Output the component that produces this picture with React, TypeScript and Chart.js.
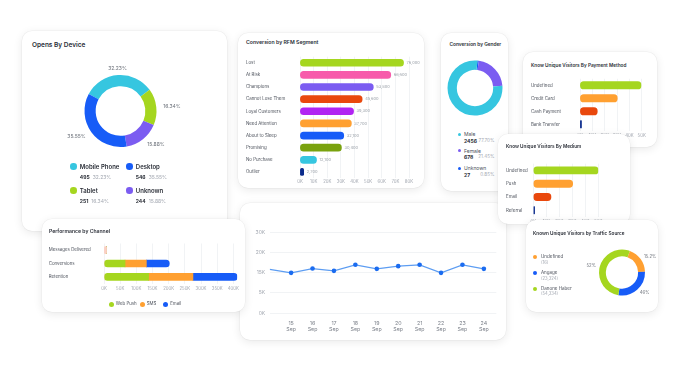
import React, { useEffect, useRef } from 'react';
import { Chart, registerables } from 'chart.js';
Chart.register(...registerables);

const FONT = 'Inter, "Liberation Sans", sans-serif';
const TEXT_DARK = '#2b2f38';
const TEXT_MID = '#4d525c';
const TEXT_LIGHT = '#a3a8b1';
const GRID = '#eef0f3';

// ---------- Opens By Device ----------
const deviceLabels = ['Mobile Phone', 'Tablet', 'Unknown', 'Desktop'];
const deviceCounts = [495, 251, 244, 546];
const devicePercents = ['32.23%', '16.34%', '15.88%', '35.55%'];
const deviceColors = ['#36c6e0', '#a5d61f', '#7b5cf1', '#175cf7'];

// ---------- Conversion by RFM Segment ----------
const rfmSegments = ['Lost', 'At Risk', 'Champions', 'Cannot Lose Them', 'Loyal Customers', 'Need Attention', 'About to Sleep', 'Promising', 'No Purchase', 'Outlier'];
const rfmValues = [76000, 66600, 53800, 45600, 39300, 37700, 32100, 30400, 12100, 2700];
const rfmColors = ['#a5d61f', '#f75bab', '#7b5cf1', '#e9480d', '#b124f2', '#ffa031', '#175cf7', '#79a20e', '#36c6e0', '#0b2b8c'];

// ---------- Conversion by Gender ----------
const genderLabels = ['Male', 'Female', 'Unknown'];
const genderCounts = [2456, 678, 27];
const genderPercents = ['77.70%', '21.45%', '0.85%'];
const genderColors = ['#36c6e0', '#7b5cf1', '#175cf7'];
const genderDrawOrder = [2, 1, 0];

// ---------- Payment Method ----------
const paymentMethods = ['Undefined', 'Credit Card', 'Cash Payment', 'Bank Transfer'];
const paymentValues = [49500, 30200, 14000, 1200];
const paymentColors = ['#a5d61f', '#ffa031', '#e9480d', '#0b2b8c'];

// ---------- Medium ----------
const mediumLabels = ['Undefined', 'Push', 'Email', 'Referral'];
const mediumValues = [50000, 30300, 13600, 1000];
const mediumColors = ['#a5d61f', '#ffa031', '#e9480d', '#0b2b8c'];

// ---------- Traffic Source ----------
const trafficLabels = ['Undefined', 'Angage', 'Danone Haber'];
const trafficCounts = ['(16)', '(23,324)', '(54,334)'];
const trafficShares = [19, 28, 53];
const trafficPercents = ['15.2%', '46%', '52%'];
const trafficColors = ['#ffa031', '#175cf7', '#a5d61f'];

// ---------- Performance by Channel ----------
const channelCategories = ['Messages Delivered', 'Conversions', 'Retention'];
const deliveredValues = [8000, 0, 0];
const webPushValues = [0, 65000, 138000];
const smsValues = [0, 66000, 137000];
const emailValues = [0, 71000, 137000];
const channelColors = ['#a5d61f', '#ffa031', '#175cf7'];
const channelNames = ['Web Push', 'SMS', 'Email'];
const channelTicks = [0, 50000, 100000, 150000, 200000, 250000, 300000, 350000, 400000];

// ---------- Daily line ----------
const lineDays = ['14 Sep', '15 Sep', '16 Sep', '17 Sep', '18 Sep', '19 Sep', '20 Sep', '21 Sep', '22 Sep', '23 Sep', '24 Sep'];
const lineValues = [16300, 15000, 16600, 15750, 18000, 16500, 17500, 18000, 15000, 18000, 16500];
const lineYTickLabels = ['0K', '5K', '15K', '20K', '30K'];

const kFmt = (v: number) => `${Math.round(v / 1000)}K`;

function ChartCanvas({ x, y, w, h, z, make }: any) {
  const ref = useRef<HTMLCanvasElement>(null);
  useEffect(() => {
    const chart = new Chart(ref.current as HTMLCanvasElement, make());
    return () => chart.destroy();
  }, []);
  return (
    <canvas
      ref={ref}
      width={w}
      height={h}
      style={{ position: 'absolute', left: x, top: y, width: w, height: h, zIndex: z }}
    />
  );
}

function Card({ x, y, w, h, z }: any) {
  return (
    <div
      style={{
        position: 'absolute', left: x, top: y, width: w, height: h, zIndex: z,
        background: '#fff', borderRadius: 10,
        boxShadow: '0 0 0 0.5px rgba(0,0,0,0.05), 0 2px 10px rgba(0,0,0,0.09)',
      }}
    />
  );
}

function T({ x, y, z, size = 5, weight = 400, color = TEXT_MID, align = 'left', children }: any) {
  const tx = align === 'left' ? '0' : align === 'right' ? '-100%' : '-50%';
  return (
    <div
      style={{
        position: 'absolute', left: x, top: y, zIndex: z, transform: `translate(${tx},-50%)`,
        fontSize: size, fontWeight: weight, color, fontFamily: FONT, whiteSpace: 'nowrap', lineHeight: 1,
      }}
    >
      {children}
    </div>
  );
}

function Dot({ x, y, r, color, z }: any) {
  return (
    <div style={{ position: 'absolute', left: x - r, top: y - r, width: 2 * r, height: 2 * r, borderRadius: '50%', background: color, zIndex: z }} />
  );
}

const f = (size: number, weight: any = 400) => ({ family: FONT, size, weight });

function doughnutLabelPlugin(texts: string[], offset: number, size: number) {
  return {
    id: 'dlabels',
    afterDatasetsDraw(chart: any) {
      const ctx = chart.ctx;
      const meta = chart.getDatasetMeta(0);
      ctx.save();
      ctx.font = `${size}px ${FONT}`;
      ctx.fillStyle = '#6b7079';
      ctx.textBaseline = 'middle';
      meta.data.forEach((arc: any, i: number) => {
        const { startAngle, endAngle, outerRadius, x, y } = arc.getProps(['startAngle', 'endAngle', 'outerRadius', 'x', 'y'], true);
        const mid = (startAngle + endAngle) / 2;
        const r = outerRadius + offset;
        const c = Math.cos(mid);
        ctx.textAlign = c > 0.35 ? 'left' : c < -0.35 ? 'right' : 'center';
        ctx.fillText(texts[i], x + c * r, y + Math.sin(mid) * r);
      });
      ctx.restore();
    },
  };
}

function barValuePlugin(values: number[]) {
  return {
    id: 'bvalues',
    afterDatasetsDraw(chart: any) {
      const ctx = chart.ctx;
      const meta = chart.getDatasetMeta(0);
      ctx.save();
      ctx.font = `4px ${FONT}`;
      ctx.fillStyle = '#9aa0a8';
      ctx.textBaseline = 'middle';
      ctx.textAlign = 'left';
      meta.data.forEach((bar: any, i: number) => {
        ctx.fillText(values[i].toLocaleString('en-US'), bar.x + 3, bar.y);
      });
      ctx.restore();
    },
  };
}

const base = {
  responsive: false,
  maintainAspectRatio: false,
  animation: false,
  events: [],
};

function hBarConfig(labels: string[], values: number[], colors: string[], max: number, step: number, pad: any, yWidth: number, thickness: number, xHeight: number, tickPad: number, extraPlugins: any[] = []) {
  return {
    type: 'bar',
    data: { labels, datasets: [{ data: values, backgroundColor: colors, barThickness: thickness, borderRadius: 4, borderSkipped: false }] },
    options: {
      ...base,
      indexAxis: 'y',
      layout: { padding: pad },
      plugins: { legend: { display: false }, tooltip: { enabled: false } },
      scales: {
        x: {
          min: 0, max,
          ticks: { stepSize: step, callback: (v: number) => kFmt(v), font: f(4.3), color: TEXT_LIGHT, padding: tickPad, maxRotation: 0, autoSkip: false },
          grid: { color: GRID, drawTicks: false, lineWidth: 0.8 },
          border: { display: false },
          afterFit: (s: any) => { s.height = xHeight; },
        },
        y: {
          ticks: { crossAlign: 'far', font: f(4.4), color: TEXT_MID, padding: 0, autoSkip: false },
          grid: { display: false, drawTicks: false },
          border: { display: false },
          afterFit: (s: any) => { s.width = yWidth; },
        },
      },
    },
    plugins: extraPlugins,
  };
}

export default function App() {
  const deviceLegend = [
    { i: 0, x: 73.3, y: 166.7 },
    { i: 3, x: 129.3, y: 166.7 },
    { i: 1, x: 73.3, y: 190.7 },
    { i: 2, x: 129.3, y: 190.7 },
  ];
  return (
    <div style={{ position: 'absolute', left: 0, top: 0, width: 681, height: 372, background: '#fff', overflow: 'hidden', fontFamily: FONT }}>
      {/* Opens By Device */}
      <Card x={22} y={31} w={205} h={200} z={1} />
      <T x={32} y={45} z={1} size={6.5} weight={600} color={TEXT_DARK}>Opens By Device</T>
      <ChartCanvas x={50} y={55} w={141} h={112} z={1} make={() => ({
        type: 'doughnut',
        data: { labels: deviceLabels, datasets: [{ data: deviceCounts, backgroundColor: deviceColors, borderWidth: 0 }] },
        options: { ...base, cutout: '69%', rotation: -62, layout: { padding: { left: 34.5, right: 34.5, top: 20, bottom: 20 } }, plugins: { legend: { display: false }, tooltip: { enabled: false } } },
        plugins: [doughnutLabelPlugin(devicePercents, 7, 5)],
      })} />
      {deviceLegend.map((d) => (
        <React.Fragment key={d.i}>
          <Dot x={d.x} y={d.y} r={3.3} color={deviceColors[d.i]} z={1} />
          <T x={d.x + 6.5} y={d.y} z={1} size={6} weight={600} color={TEXT_DARK}>{deviceLabels[d.i]}</T>
          <T x={d.x + 6.5} y={d.y + 10.2} z={1} size={5} weight={700} color={TEXT_DARK}>
            {deviceCounts[d.i]}<span style={{ color: TEXT_LIGHT, fontWeight: 400, marginLeft: 3 }}>{devicePercents[d.i]}</span>
          </T>
        </React.Fragment>
      ))}

      {/* Line chart */}
      <Card x={240} y={203} w={266} h={137} z={2} />
      <ChartCanvas x={244} y={225} w={258} h={112} z={2} make={() => ({
        type: 'line',
        data: {
          datasets: [{
            data: lineValues.map((v, i) => ({ x: i, y: v })),
            borderColor: '#5d9df2', borderWidth: 1.2, tension: 0,
            pointRadius: lineValues.map((_, i) => (i === 0 ? 0 : 2.3)),
            pointBackgroundColor: '#1b6cf0', pointBorderWidth: 0,
          }],
        },
        options: {
          ...base,
          layout: { padding: { left: 0, right: 5.7, top: 7.7, bottom: 0 } },
          plugins: { legend: { display: false }, tooltip: { enabled: false } },
          scales: {
            x: {
              type: 'linear', min: 0, max: 10.58,
              afterBuildTicks: (s: any) => { s.ticks = lineDays.slice(1).map((_, i) => ({ value: i + 1 })); },
              ticks: { callback: (v: number) => lineDays[Math.round(v)].split(' '), font: { ...f(5.3), lineHeight: 1.15 }, color: '#7d828b', padding: 7, maxRotation: 0, autoSkip: false },
              grid: { display: false, drawTicks: false }, border: { display: false },
              afterFit: (s: any) => { s.height = 24; },
            },
            y: {
              min: 0, max: 30000,
              ticks: { stepSize: 7500, callback: (_v: number, i: number) => lineYTickLabels[i], font: f(5), color: TEXT_LIGHT, padding: 4.5 },
              grid: { color: GRID, drawTicks: false, lineWidth: 0.8 }, border: { display: false },
              afterFit: (s: any) => { s.width = 25.7; },
            },
          },
        },
      })} />

      {/* Performance by Channel */}
      <Card x={42} y={219} w={203} h={93} z={3} />
      <T x={49} y={231.7} z={3} size={5.1} weight={600} color={TEXT_DARK}>Performance by Channel</T>
      <ChartCanvas x={44} y={240} w={198} h={54} z={3} make={() => ({
        type: 'bar',
        data: {
          labels: channelCategories,
          datasets: [
            { label: 'Delivered', data: deliveredValues, backgroundColor: '#fbd0c4', borderRadius: 1.5, borderSkipped: false, barThickness: 7 },
            { label: channelNames[0], data: webPushValues, backgroundColor: channelColors[0], borderRadius: { topLeft: 4, bottomLeft: 4, topRight: 0, bottomRight: 0 }, borderSkipped: false, barThickness: 7 },
            { label: channelNames[1], data: smsValues, backgroundColor: channelColors[1], borderRadius: 0, borderSkipped: false, barThickness: 7 },
            { label: channelNames[2], data: emailValues, backgroundColor: channelColors[2], borderRadius: { topLeft: 0, bottomLeft: 0, topRight: 4, bottomRight: 4 }, borderSkipped: false, barThickness: 7 },
          ],
        },
        options: {
          ...base,
          indexAxis: 'y',
          layout: { padding: { left: 4.7, right: 4, top: 3.5, bottom: 0 } },
          plugins: { legend: { display: false }, tooltip: { enabled: false } },
          scales: {
            x: {
              stacked: true, min: 0, max: 412000,
              afterBuildTicks: (s: any) => { s.ticks = channelTicks.map((v) => ({ value: v })); },
              ticks: { callback: (v: number) => kFmt(v), font: f(4.3), color: TEXT_LIGHT, padding: 3, maxRotation: 0, autoSkip: false },
              grid: { color: GRID, drawTicks: false, lineWidth: 0.8 }, border: { display: false },
              afterFit: (s: any) => { s.height = 10.5; },
            },
            y: {
              stacked: true,
              ticks: { crossAlign: 'far', font: f(4.4), color: TEXT_MID, padding: 0, autoSkip: false },
              grid: { display: false, drawTicks: false }, border: { display: false },
              afterFit: (s: any) => { s.width = 55.3; },
            },
          },
        },
      })} />
      {[{ x: 111.3 }, { x: 142.3 }, { x: 165.7 }].map((p, i) => (
        <React.Fragment key={i}>
          <Dot x={p.x} y={304.3} r={2.6} color={channelColors[i]} z={3} />
          <T x={p.x + 4.5} y={304.3} z={3} size={4.4} color={TEXT_MID}>{channelNames[i]}</T>
        </React.Fragment>
      ))}

      {/* RFM */}
      <Card x={238} y={33} w={186} h={155} z={4} />
      <T x={246} y={42.5} z={4} size={5.2} weight={600} color={TEXT_DARK}>Conversion by RFM Segment</T>
      <ChartCanvas x={240} y={52} w={182} h={135} z={4} make={() =>
        hBarConfig(rfmSegments, rfmValues, rfmColors, 80000, 10000, { left: 6, right: 13, top: 4.7, bottom: 0 }, 54, 7, 9, 1.5, [barValuePlugin(rfmValues)])
      } />

      {/* Gender */}
      <Card x={441} y={33} w={67} h={158} z={5} />
      <T x={449.5} y={43.5} z={5} size={4.8} weight={600} color={TEXT_DARK}>Conversion by Gender</T>
      <ChartCanvas x={446} y={59} w={58} h={58} z={5} make={() => ({
        type: 'doughnut',
        data: {
          labels: genderDrawOrder.map((i) => genderLabels[i]),
          datasets: [{ data: genderDrawOrder.map((i) => genderCounts[i]), backgroundColor: genderDrawOrder.map((i) => genderColors[i]), borderWidth: 0 }],
        },
        options: { ...base, cutout: '66%', rotation: 5, layout: { padding: 1.5 }, plugins: { legend: { display: false }, tooltip: { enabled: false } } },
      })} />
      {genderLabels.map((g, i) => {
        const y = [134.3, 150.7, 168.3][i];
        return (
          <React.Fragment key={g}>
            <Dot x={459.7} y={y} r={1.8} color={genderColors[i]} z={5} />
            <T x={464} y={y} z={5} size={5} color={TEXT_MID}>{g}</T>
            <T x={464} y={y + 6.6} z={5} size={5} weight={700} color={TEXT_DARK}>{genderCounts[i]}</T>
            <T x={494.5} y={y + 6.6} z={5} size={4.6} color={TEXT_LIGHT} align="right">{genderPercents[i]}</T>
          </React.Fragment>
        );
      })}

      {/* Payment method */}
      <Card x={523} y={52} w={134} h={95} z={6} />
      <T x={531} y={64.5} z={6} size={4.7} weight={600} color={TEXT_DARK}>Know Unique Visitors By Payment Method</T>
      <ChartCanvas x={525} y={75} w={128} h={64} z={6} make={() =>
        hBarConfig(paymentMethods, paymentValues, paymentColors, 50000, 10000, { left: 6, right: 11.3, top: 3.8, bottom: 0 }, 49, 7.3, 8.2, 2)
      } />

      {/* Medium */}
      <Card x={498} y={134} w={132} h={90} z={7} />
      <T x={506} y={146} z={7} size={4.7} weight={600} color={TEXT_DARK}>Know Unique Visitors By Medium</T>
      <ChartCanvas x={500} y={160} w={128} h={65} z={7} make={() =>
        hBarConfig(mediumLabels, mediumValues, mediumColors, 50000, 10000, { left: 6, right: 29.7, top: 3.7, bottom: 0 }, 27.3, 7.3, 8, 2)
      } />

      {/* Traffic source */}
      <Card x={526} y={220} w={132} h={92} z={8} />
      <T x={533} y={232.5} z={8} size={4.7} weight={600} color={TEXT_DARK}>Known Unique Visitors by Traffic Source</T>
      {trafficLabels.map((t, i) => {
        const y = [257.3, 273.3, 289][i];
        return (
          <React.Fragment key={t}>
            <Dot x={535} y={y} r={2.2} color={trafficColors[i]} z={8} />
            <T x={541} y={y} z={8} size={4.5} color={TEXT_MID}>{t}</T>
            <T x={541} y={y + 5.3} z={8} size={4.2} color={TEXT_LIGHT}>{trafficCounts[i]}</T>
          </React.Fragment>
        );
      })}
      <ChartCanvas x={580} y={240} w={84} h={65} z={8} make={() => ({
        type: 'doughnut',
        data: { labels: trafficLabels, datasets: [{ data: trafficShares, backgroundColor: trafficColors, borderWidth: 0 }] },
        options: { ...base, cutout: '70%', rotation: 20, layout: { padding: { left: 19, right: 19, top: 9.5, bottom: 9.5 } }, plugins: { legend: { display: false }, tooltip: { enabled: false } } },
        plugins: [doughnutLabelPlugin(trafficPercents, 4, 4.3)],
      })} />
    </div>
  );
}
